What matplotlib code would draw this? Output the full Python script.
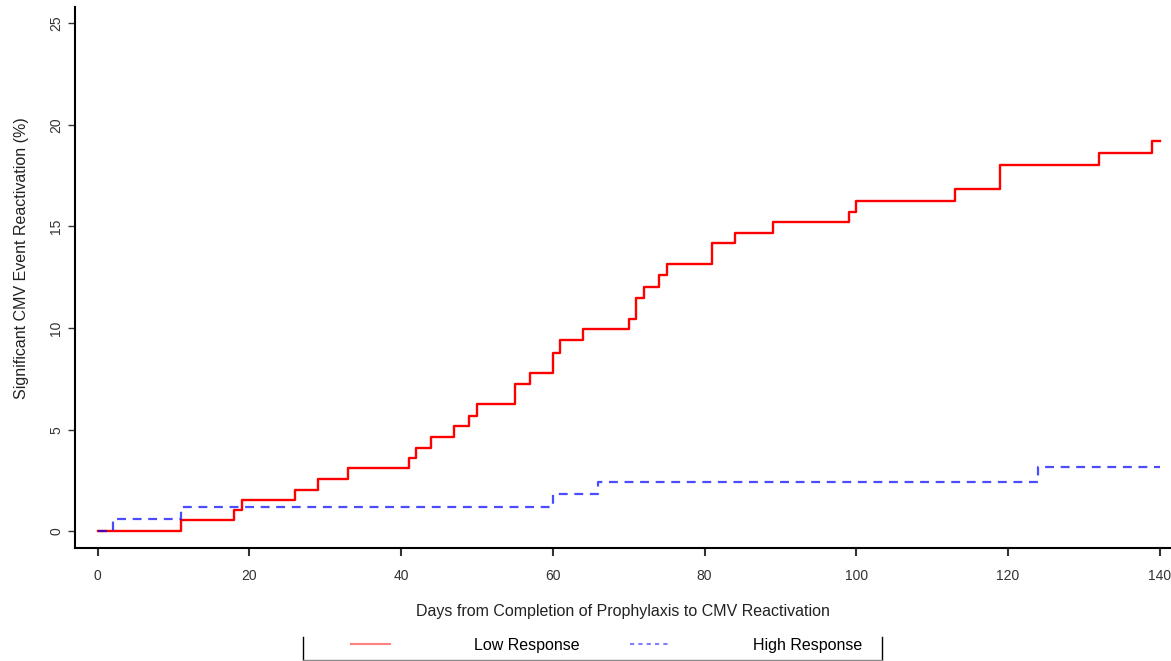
import matplotlib.pyplot as plt
from matplotlib.lines import Line2D

plt.rcParams['font.family'] = ['Liberation Sans', 'DejaVu Sans']

# cumulative incidence (%), step curves
low_days = [0, 11, 18, 19, 26, 29, 33, 41, 42, 44, 47, 49, 50, 55, 57, 60, 61, 64,
            70, 71, 72, 74, 75, 81, 84, 89, 99, 100, 113, 119, 132, 139, 140]
low_pct = [0, 0.55, 1.05, 1.55, 2.05, 2.6, 3.1, 3.6, 4.1, 4.65, 5.2, 5.7, 6.25, 7.25, 7.8, 8.8, 9.4, 9.95,
           10.45, 11.5, 12.0, 12.6, 13.15, 14.2, 14.7, 15.2, 15.7, 16.25, 16.85, 18.0, 18.6, 19.2, 19.2]

high_days = [0, 2, 11, 60, 66, 124, 140]
high_pct = [0, 0.6, 1.2, 1.85, 2.45, 3.15, 3.15]

xticks = [0, 20, 40, 60, 80, 100, 120, 140]
yticks = [0, 5, 10, 15, 20, 25]

fig = plt.figure(figsize=(11.71, 6.61), dpi=100)
ax = fig.add_axes([0.064, 0.171, 0.936, 0.818])

ax.step(low_days, low_pct, where='post', color='red', lw=1.7, label='Low Response')
ax.step(high_days, high_pct, where='post', color='blue', lw=1.6, alpha=0.7,
        linestyle=(0, (4, 3)), label='High Response')

ax.set_xlim(-3.0, 141.5)
ax.set_ylim(-0.81, 25.78)
ax.set_xticks(xticks)
ax.set_yticks(yticks)
ax.tick_params(axis='y', labelrotation=90, labelsize=10, colors='#333333', length=5, width=1)
ax.tick_params(axis='x', labelsize=10, colors='#333333', length=6, width=1.5, pad=9)
for lab in ax.get_yticklabels():
    lab.set_verticalalignment('center')

for s in ['top', 'right']:
    ax.spines[s].set_visible(False)
ax.spines['left'].set_linewidth(1.5)
ax.spines['bottom'].set_linewidth(1.5)

ax.set_xlabel('Days from Completion of Prophylaxis to CMV Reactivation', fontsize=11.5,
              color='#222222', labelpad=15)
ax.set_ylabel('Significant CMV Event Reactivation (%)', fontsize=11.5, color='#222222')
ax.yaxis.set_label_coords(-0.042, 0.536)

handles = [Line2D([], [], color='#ff8080', lw=1.5),
           Line2D([], [], color='#8080ff', lw=1.5, linestyle=(0, (2, 2)))]
fig.legend(handles, ['Low Response', 'High Response'], ncol=2, frameon=False,
           loc='center', bbox_to_anchor=(0.518, 0.024), fontsize=11.5,
           handlelength=2.45, handletextpad=5.3, columnspacing=3.1)

# legend box edges (cut at the bottom of the figure)
fig.add_artist(Line2D([303 / 1171, 303 / 1171], [0, 24 / 661], color='black', lw=1))
fig.add_artist(Line2D([882 / 1171, 882 / 1171], [0, 24 / 661], color='black', lw=1))
fig.add_artist(Line2D([303 / 1171, 882 / 1171], [0.002, 0.002], color='#888888', lw=1))

fig.savefig('out.png', dpi=100)
